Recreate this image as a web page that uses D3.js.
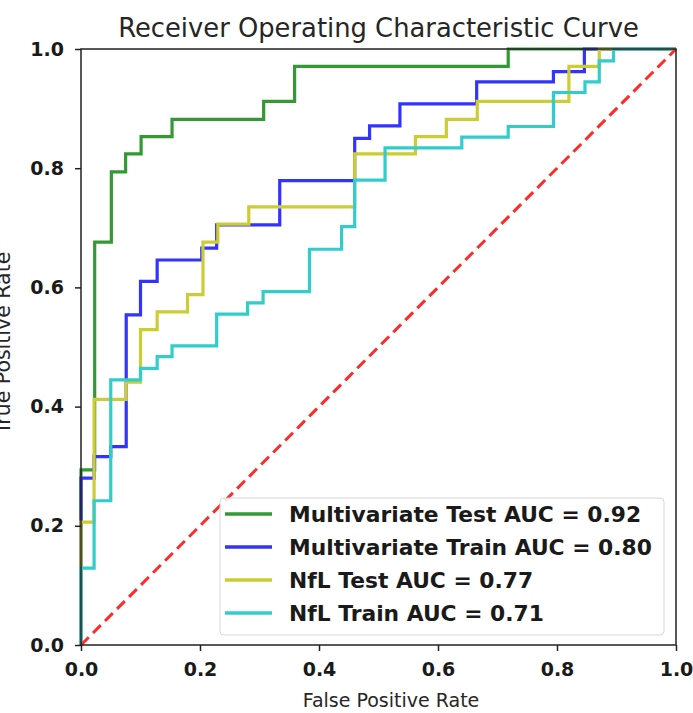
<!DOCTYPE html>
<html>
<head>
<meta charset="utf-8">
<script src="https://cdn.jsdelivr.net/npm/d3@7"></script>
<style>
  body { margin: 0; background: #fff; }
  svg { display: block; font-family: "DejaVu Sans", sans-serif; }
</style>
</head>
<body>
<div id="chart"></div>
<script>
// ROC corner points (fpr, tpr)
const mvTestFpr  = [0, 0, 0.023, 0.023, 0.051, 0.051, 0.075, 0.075, 0.101, 0.101, 0.153, 0.153, 0.307, 0.307, 0.359, 0.359, 0.718, 0.718, 1];
const mvTestTpr  = [0, 0.294, 0.294, 0.676, 0.676, 0.794, 0.794, 0.824, 0.824, 0.853, 0.853, 0.882, 0.882, 0.912, 0.912, 0.971, 0.971, 1, 1];

const mvTrainFpr = [0, 0, 0.022, 0.022, 0.05, 0.05, 0.076, 0.076, 0.1, 0.1, 0.128, 0.128, 0.203, 0.203, 0.228, 0.228, 0.334, 0.334, 0.46, 0.46, 0.485, 0.485, 0.536, 0.536, 0.665, 0.665, 0.794, 0.794, 0.846, 0.846, 1];
const mvTrainTpr = [0, 0.28, 0.28, 0.316, 0.316, 0.333, 0.333, 0.554, 0.554, 0.61, 0.61, 0.646, 0.646, 0.666, 0.666, 0.705, 0.705, 0.779, 0.779, 0.85, 0.85, 0.871, 0.871, 0.908, 0.908, 0.945, 0.945, 0.962, 0.962, 1, 1];

const nflTestFpr = [0, 0, 0.022, 0.022, 0.076, 0.076, 0.1, 0.1, 0.128, 0.128, 0.179, 0.179, 0.205, 0.205, 0.23, 0.23, 0.282, 0.282, 0.46, 0.46, 0.562, 0.562, 0.614, 0.614, 0.666, 0.666, 0.82, 0.82, 0.871, 0.871, 1];
const nflTestTpr = [0, 0.206, 0.206, 0.412, 0.412, 0.441, 0.441, 0.529, 0.529, 0.559, 0.559, 0.588, 0.588, 0.676, 0.676, 0.706, 0.706, 0.735, 0.735, 0.824, 0.824, 0.853, 0.853, 0.882, 0.882, 0.912, 0.912, 0.971, 0.971, 1, 1];

const nflTrainFpr = [0, 0, 0.022, 0.022, 0.05, 0.05, 0.1, 0.1, 0.128, 0.128, 0.153, 0.153, 0.228, 0.228, 0.28, 0.28, 0.306, 0.306, 0.384, 0.384, 0.438, 0.438, 0.46, 0.46, 0.511, 0.511, 0.64, 0.64, 0.718, 0.718, 0.794, 0.794, 0.847, 0.847, 0.871, 0.871, 0.895, 0.895, 1];
const nflTrainTpr = [0, 0.129, 0.129, 0.242, 0.242, 0.445, 0.445, 0.464, 0.464, 0.484, 0.484, 0.502, 0.502, 0.555, 0.555, 0.574, 0.574, 0.593, 0.593, 0.664, 0.664, 0.702, 0.702, 0.78, 0.78, 0.834, 0.834, 0.852, 0.852, 0.87, 0.87, 0.927, 0.927, 0.945, 0.945, 0.98, 0.98, 1, 1];

const seriesNames  = ["Multivariate Test AUC = 0.92", "Multivariate Train AUC = 0.80", "NfL Test AUC = 0.77", "NfL Train AUC = 0.71"];
const seriesColors = ["#339933", "#3333ff", "#cccc33", "#33cccc"];
const tickValues   = [0, 0.2, 0.4, 0.6, 0.8, 1.0];

// --------------------------------------------------------------------------
const chart_width = 693, chart_height = 713;
const plot_left = 81, plot_right = 676, plot_top = 49, plot_bottom = 645;

const svg = d3.select("#chart")
  .append("svg")
  .attr("width", chart_width)
  .attr("height", chart_height);

const x = d3.scaleLinear().domain([0, 1]).range([plot_left, plot_right]);
const y = d3.scaleLinear().domain([0, 1]).range([plot_bottom, plot_top]);

const series = [
  { fpr: mvTestFpr,   tpr: mvTestTpr },
  { fpr: mvTrainFpr,  tpr: mvTrainTpr },
  { fpr: nflTestFpr,  tpr: nflTestTpr },
  { fpr: nflTrainFpr, tpr: nflTrainTpr }
].map((s, i) => ({
  name: seriesNames[i],
  color: seriesColors[i],
  points: s.fpr.map((f, j) => [f, s.tpr[j]])
}));

const line = d3.line()
  .x(d => x(d[0]))
  .y(d => y(d[1]));

// clip so the curves sit inside the frame
svg.append("clipPath").attr("id", "plot-clip")
  .append("rect")
  .attr("x", plot_left - 2).attr("y", plot_top - 2)
  .attr("width", plot_right - plot_left + 4).attr("height", plot_bottom - plot_top + 4);

const plot = svg.append("g").attr("clip-path", "url(#plot-clip)");

plot.selectAll("path.roc")
  .data(series)
  .enter()
  .append("path")
  .attr("class", "roc")
  .attr("d", d => line(d.points))
  .attr("fill", "none")
  .attr("stroke", d => d.color)
  .attr("stroke-width", 3.2)
  .attr("stroke-linejoin", "miter");

// chance line
plot.append("path")
  .attr("d", line([[0, 0], [1, 1]]))
  .attr("fill", "none")
  .attr("stroke", "#ff2a2a")
  .attr("stroke-width", 3)
  .attr("stroke-dasharray", "11,6");

// ---------------------------------------------------------------------------
// Axes
const fmt = d3.format(".1f");

const yAxis = svg.append("g")
  .attr("transform", `translate(${plot_left},0)`)
  .call(d3.axisLeft(y).tickValues(tickValues).tickFormat(fmt).tickSize(6).tickPadding(11));

const xAxis = svg.append("g")
  .attr("transform", `translate(0,${plot_bottom})`)
  .call(d3.axisBottom(x).tickValues(tickValues).tickFormat(fmt).tickSize(6).tickPadding(12));

[xAxis, yAxis].forEach(g => {
  g.select(".domain").remove();
  g.selectAll(".tick line").attr("stroke", "#222").attr("stroke-width", 1.5);
  g.selectAll(".tick text")
    .attr("fill", "#1a1a1a")
    .style("font-size", "19px")
    .style("font-weight", "bold")
    .style("font-family", "DejaVu Sans");
});

// frame
svg.append("rect")
  .attr("x", plot_left).attr("y", plot_top)
  .attr("width", plot_right - plot_left).attr("height", plot_bottom - plot_top)
  .attr("fill", "none")
  .attr("stroke", "#222")
  .attr("stroke-width", 1.5);

// ---------------------------------------------------------------------------
// Legend
const legend = svg.append("g");
legend.append("rect")
  .attr("x", 220).attr("y", 498)
  .attr("width", 444).attr("height", 137)
  .attr("rx", 4)
  .attr("fill", "#fff")
  .attr("fill-opacity", 0.85)
  .attr("stroke", "#d6d6d6")
  .attr("stroke-width", 1);

const rows = legend.selectAll("g.row")
  .data(series)
  .enter()
  .append("g")
  .attr("class", "row")
  .attr("transform", (d, i) => `translate(0,${514 + i * 33})`);

rows.append("line")
  .attr("x1", 225).attr("x2", 272)
  .attr("stroke", d => d.color)
  .attr("stroke-width", 3.5);

rows.append("text")
  .attr("x", 289)
  .attr("dy", "0.36em")
  .attr("fill", "#1a1a1a")
  .style("font-size", "21.8px")
  .style("font-weight", "bold")
  .text(d => d.name);

// ---------------------------------------------------------------------------
// Titles
svg.append("text")
  .attr("x", (plot_left + plot_right) / 2)
  .attr("y", 37)
  .attr("text-anchor", "middle")
  .attr("fill", "#262626")
  .style("font-size", "25.8px")
  .text("Receiver Operating Characteristic Curve");

svg.append("text")
  .attr("x", 391)
  .attr("y", 707)
  .attr("text-anchor", "middle")
  .attr("fill", "#262626")
  .style("font-size", "19px")
  .text("False Positive Rate");

svg.append("text")
  .attr("transform", "translate(10,343) rotate(-90)")
  .attr("text-anchor", "middle")
  .attr("fill", "#262626")
  .style("font-size", "20.5px")
  .text("True Positive Rate");
</script>
</body>
</html>
